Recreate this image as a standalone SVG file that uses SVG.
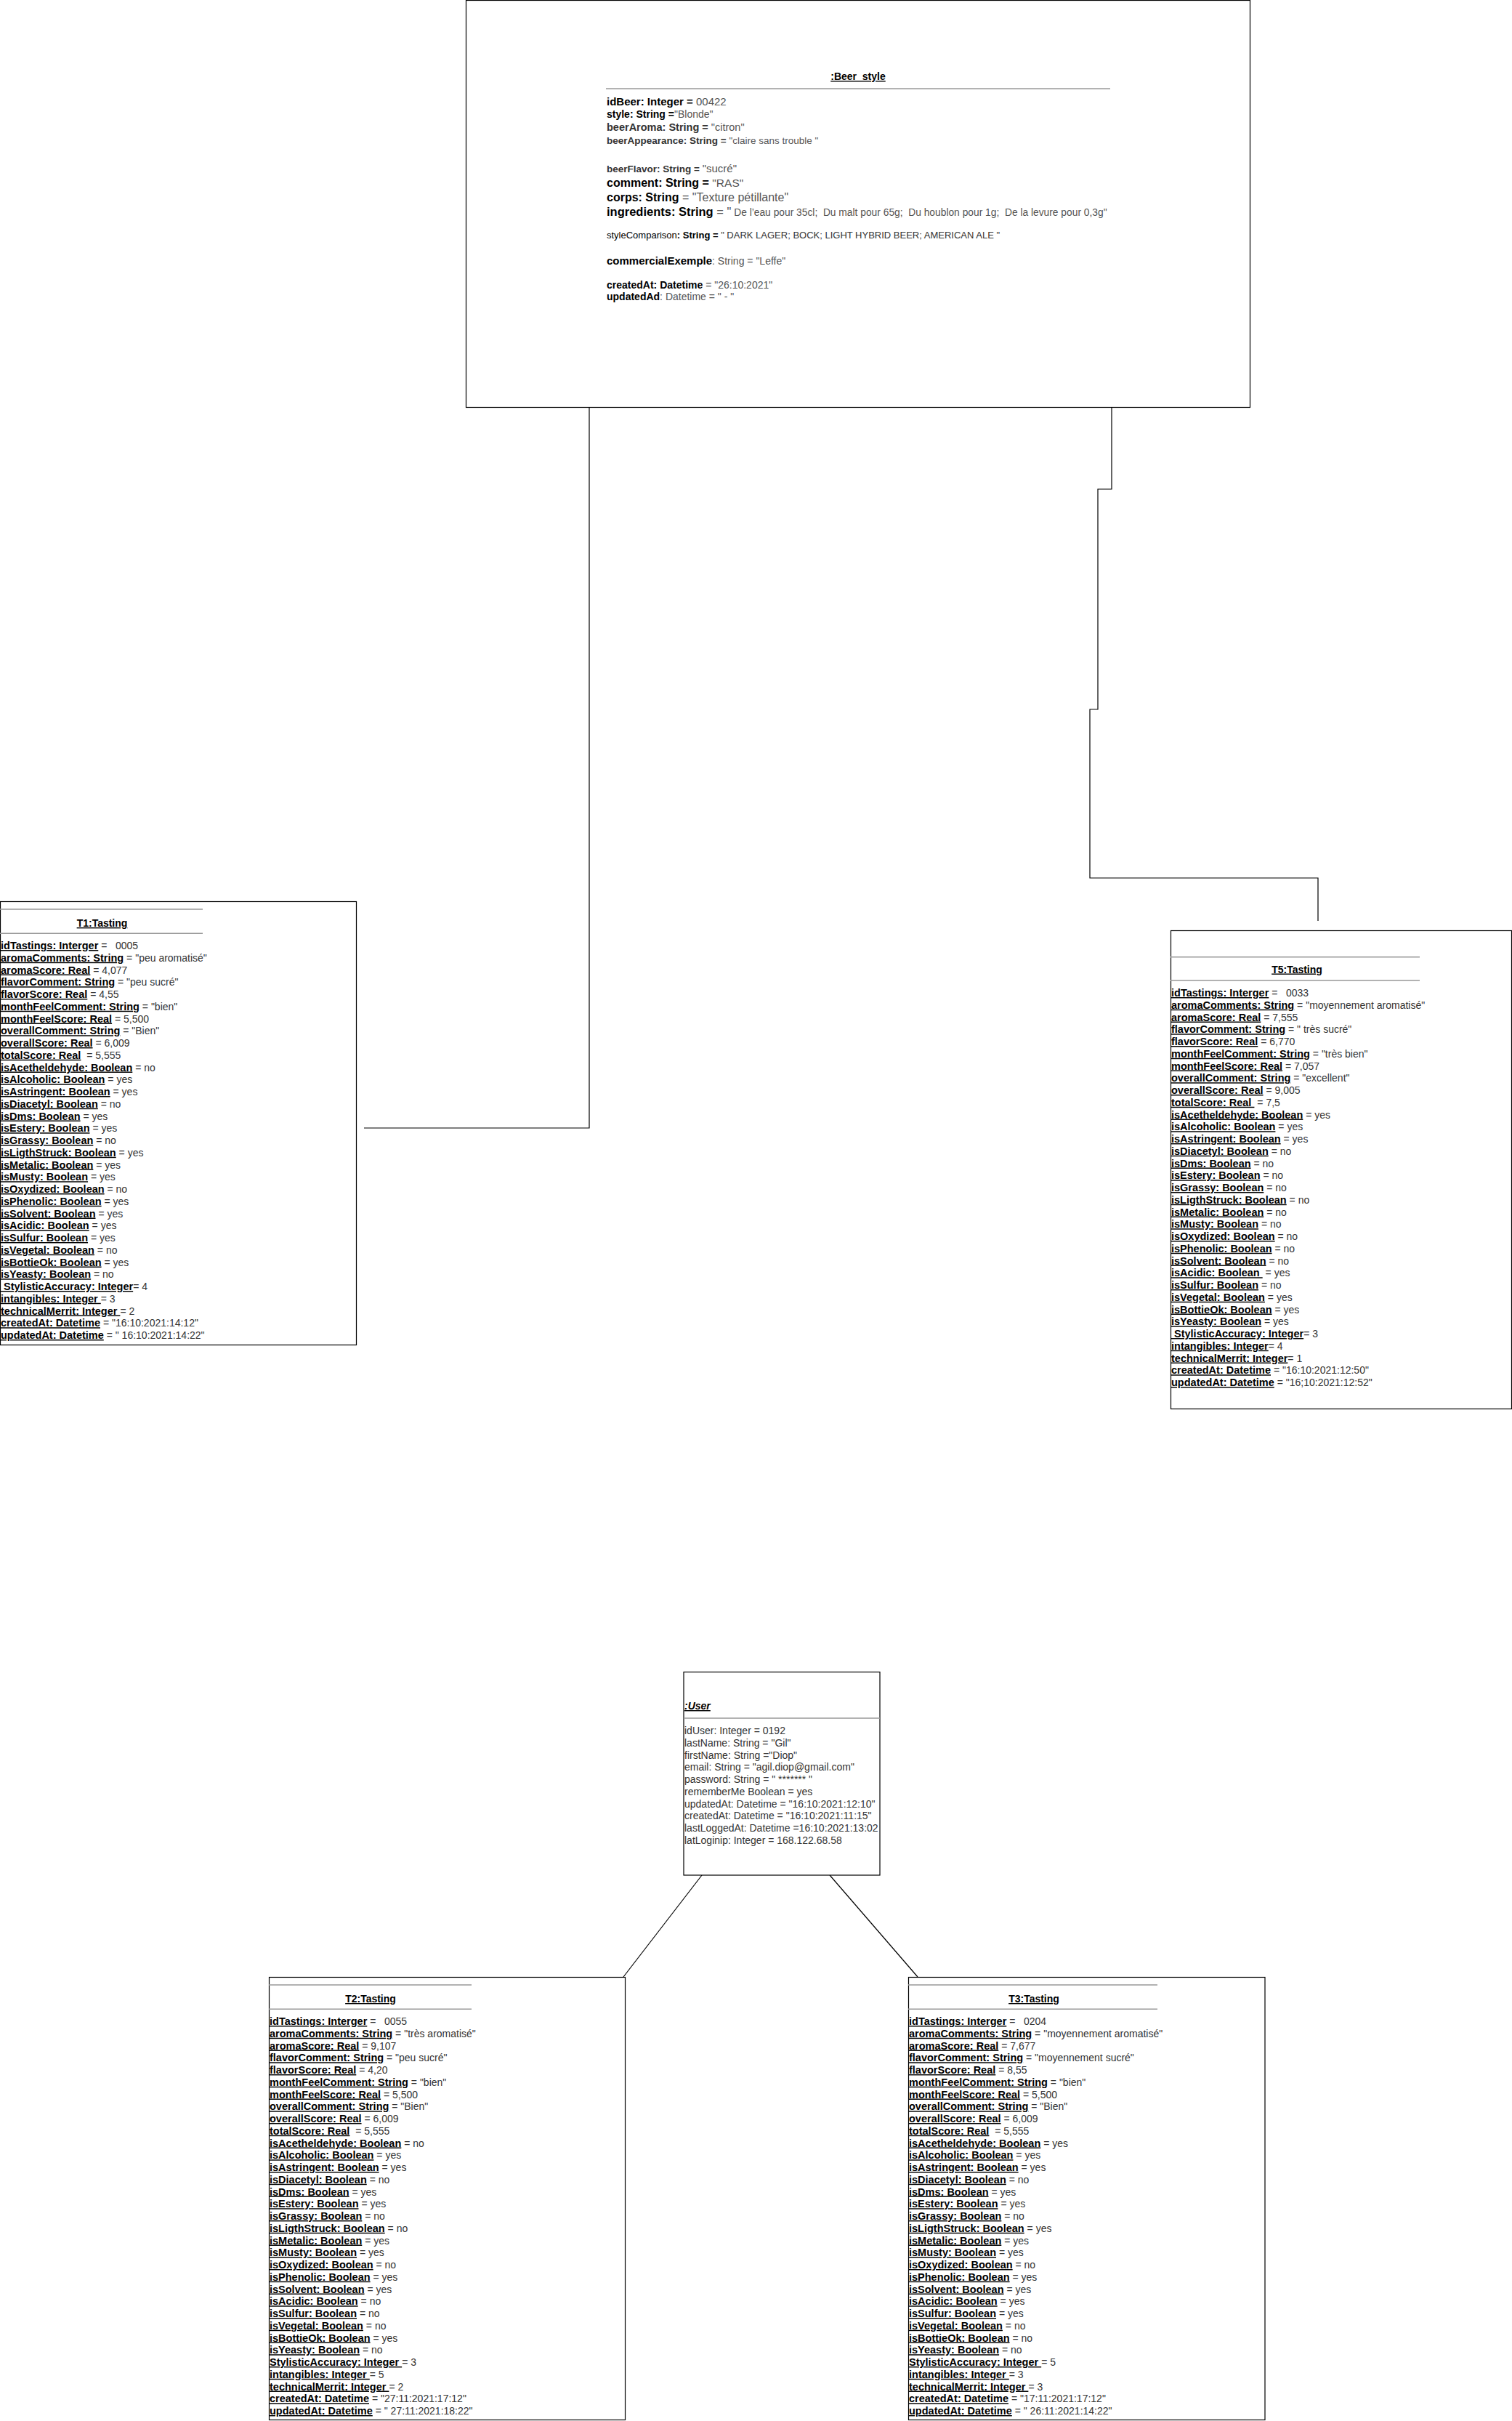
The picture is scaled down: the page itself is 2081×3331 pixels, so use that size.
<svg xmlns="http://www.w3.org/2000/svg" width="2081" height="3331" viewBox="0 0 2081 3331" xml:space="preserve">
<style>
text{font-family:"Liberation Sans",Arial,Helvetica,sans-serif;font-size:14px;fill:#333;white-space:pre}
.b{font-weight:bold;fill:#000}
.u{text-decoration:underline}
.g{fill:#555}
.box{fill:#fff;stroke:#000;stroke-width:1.2}
.sep{stroke:#999;stroke-width:1.5}
.conn{fill:none;stroke:#000;stroke-width:1.2}
.tb{font-size:14.5px}
.tt{font-weight:bold;fill:#000;text-decoration:underline;text-anchor:middle}
</style>
<rect width="2081" height="3331" fill="#fff"/>
<g id="connectors">
<polyline class="conn" points="811,560 811,1552 501,1552"/>
<polyline class="conn" points="1530,560 1530,673 1511,673 1511,976 1500,976 1500,1208 1814,1208 1814,1267"/>
<line class="conn" x1="966" y1="2580" x2="858" y2="2720"/>
<line class="conn" x1="1142" y1="2580" x2="1263" y2="2720"/>
</g>
<g id="beer_style">
<rect class="box" x="641.5" y="0.5" width="1079" height="560"/>
<text class="tt" x="1181" y="110">:Beer_style</text>
<line class="sep" x1="834" y1="122" x2="1528" y2="122"/>
<text x="835" y="145"><tspan class="b" style="font-size:15px">idBeer: Integer = </tspan><tspan class="g" style="font-size:15px">00422</tspan></text>
<text x="835" y="162"><tspan class="b">style: String =</tspan><tspan class="g">"Blonde"</tspan></text>
<text x="835" y="180" style="font-size:14.5px"><tspan class="b" style="fill:#333">beerAroma: String = </tspan><tspan class="g">"citron"</tspan></text>
<text x="835" y="198" style="font-size:13.5px"><tspan class="b" style="fill:#333">beerAppearance: String = </tspan><tspan class="g">"claire sans trouble "</tspan></text>
<text x="835" y="237"><tspan class="b" style="fill:#333;font-size:13.5px">beerFlavor: String = </tspan><tspan class="g" style="font-size:15px">"sucré"</tspan></text>
<text x="835" y="257" style="font-size:16px"><tspan class="b">comment: String = </tspan><tspan class="g" style="font-size:15.5px">"RAS"</tspan></text>
<text x="835" y="277" style="font-size:16px"><tspan class="b">corps: String</tspan><tspan class="g"> = "Texture pétillante"</tspan></text>
<text x="835" y="297" style="font-size:16.5px"><tspan class="b">ingredients: String</tspan><tspan class="g"> = "</tspan><tspan class="g" style="font-size:13.8px"> De l’eau pour 35cl;  Du malt pour 65g;  Du houblon pour 1g;  De la levure pour 0,3g"</tspan></text>
<text x="835" y="328" style="font-size:13px"><tspan style="fill:#000">styleComparison</tspan><tspan class="b">: String = </tspan><tspan>" DARK LAGER; BOCK; LIGHT HYBRID BEER; AMERICAN ALE "</tspan></text>
<text x="835" y="364"><tspan class="b" style="font-size:15px">commercialExemple</tspan><tspan class="g">: String = "Leffe"</tspan></text>
<text x="835" y="397"><tspan class="b">createdAt: Datetime</tspan><tspan class="g"> = "26:10:2021"</tspan></text>
<text x="835" y="413"><tspan class="b">updatedAd</tspan><tspan class="g">: Datetime = " - "</tspan></text>
</g>
<g id="t1">
<rect class="box" x="0.5" y="1240.5" width="490" height="610"/>
<line class="sep" x1="0" y1="1251" x2="279" y2="1251"/>
<text class="tt" x="140.5" y="1275">T1:Tasting</text>
<line class="sep" x1="0" y1="1284.3" x2="279" y2="1284.3"/>
<g transform="translate(1,1306)">
<text y="0"><tspan class="b u tb">idTastings: Interger</tspan> =   0005</text>
<text y="16.75"><tspan class="b u tb">aromaComments: String</tspan> = "peu aromatisé"</text>
<text y="33.5"><tspan class="b u tb">aromaScore: Real</tspan> = 4,077</text>
<text y="50.25"><tspan class="b u tb">flavorComment: String</tspan> = "peu sucré"</text>
<text y="67"><tspan class="b u tb">flavorScore: Real</tspan> = 4,55</text>
<text y="83.75"><tspan class="b u tb">monthFeelComment: String</tspan> = "bien"</text>
<text y="100.5"><tspan class="b u tb">monthFeelScore: Real</tspan> = 5,500</text>
<text y="117.25"><tspan class="b u tb">overallComment: String</tspan> = "Bien"</text>
<text y="134"><tspan class="b u tb">overallScore: Real</tspan> = 6,009</text>
<text y="150.75"><tspan class="b u tb">totalScore: Real</tspan>  = 5,555</text>
<text y="167.5"><tspan class="b u tb">isAcetheldehyde: Boolean</tspan> = no</text>
<text y="184.25"><tspan class="b u tb">isAlcoholic: Boolean</tspan> = yes</text>
<text y="201"><tspan class="b u tb">isAstringent: Boolean</tspan> = yes</text>
<text y="217.75"><tspan class="b u tb">isDiacetyl: Boolean</tspan> = no</text>
<text y="234.5"><tspan class="b u tb">isDms: Boolean</tspan> = yes</text>
<text y="251.25"><tspan class="b u tb">isEstery: Boolean</tspan> = yes</text>
<text y="268"><tspan class="b u tb">isGrassy: Boolean</tspan> = no</text>
<text y="284.75"><tspan class="b u tb">isLigthStruck: Boolean</tspan> = yes</text>
<text y="301.5"><tspan class="b u tb">isMetalic: Boolean</tspan> = yes</text>
<text y="318.25"><tspan class="b u tb">isMusty: Boolean</tspan> = yes</text>
<text y="335"><tspan class="b u tb">isOxydized: Boolean</tspan> = no</text>
<text y="351.75"><tspan class="b u tb">isPhenolic: Boolean</tspan> = yes</text>
<text y="368.5"><tspan class="b u tb">isSolvent: Boolean</tspan> = yes</text>
<text y="385.25"><tspan class="b u tb">isAcidic: Boolean</tspan> = yes</text>
<text y="402"><tspan class="b u tb">isSulfur: Boolean</tspan> = yes</text>
<text y="418.75"><tspan class="b u tb">isVegetal: Boolean</tspan> = no</text>
<text y="435.5"><tspan class="b u tb">isBottieOk: Boolean</tspan> = yes</text>
<text y="452.25"><tspan class="b u tb">isYeasty: Boolean</tspan> = no</text>
<text y="469"><tspan class="b u tb"> StylisticAccuracy: Integer</tspan>= 4</text>
<text y="485.75"><tspan class="b u tb">intangibles: Integer </tspan>= 3</text>
<text y="502.5"><tspan class="b u tb">technicalMerrit: Integer </tspan>= 2</text>
<text y="519.25"><tspan class="b u tb">createdAt: Datetime</tspan> = "16:10:2021:14:12"</text>
<text y="536"><tspan class="b u tb">updatedAt: Datetime</tspan> = " 16:10:2021:14:22"</text>
</g>
</g>
<g id="t5">
<rect class="box" x="1611.5" y="1280.5" width="469" height="658"/>
<line class="sep" x1="1611" y1="1316.7" x2="1954" y2="1316.7"/>
<text class="tt" x="1785" y="1338.5">T5:Tasting</text>
<line class="sep" x1="1611" y1="1349" x2="1954" y2="1349"/>
<g transform="translate(1612,1371)">
<text y="0"><tspan class="b u tb">idTastings: Interger</tspan> =   0033</text>
<text y="16.75"><tspan class="b u tb">aromaComments: String</tspan> = "moyennement aromatisé"</text>
<text y="33.5"><tspan class="b u tb">aromaScore: Real</tspan> = 7,555</text>
<text y="50.25"><tspan class="b u tb">flavorComment: String</tspan> = " très sucré"</text>
<text y="67"><tspan class="b u tb">flavorScore: Real</tspan> = 6,770</text>
<text y="83.75"><tspan class="b u tb">monthFeelComment: String</tspan> = "très bien"</text>
<text y="100.5"><tspan class="b u tb">monthFeelScore: Real</tspan> = 7,057</text>
<text y="117.25"><tspan class="b u tb">overallComment: String</tspan> = "excellent"</text>
<text y="134"><tspan class="b u tb">overallScore: Real</tspan> = 9,005</text>
<text y="150.75"><tspan class="b u tb">totalScore: Real </tspan> = 7,5</text>
<text y="167.5"><tspan class="b u tb">isAcetheldehyde: Boolean</tspan> = yes</text>
<text y="184.25"><tspan class="b u tb">isAlcoholic: Boolean</tspan> = yes</text>
<text y="201"><tspan class="b u tb">isAstringent: Boolean</tspan> = yes</text>
<text y="217.75"><tspan class="b u tb">isDiacetyl: Boolean</tspan> = no</text>
<text y="234.5"><tspan class="b u tb">isDms: Boolean</tspan> = no</text>
<text y="251.25"><tspan class="b u tb">isEstery: Boolean</tspan> = no</text>
<text y="268"><tspan class="b u tb">isGrassy: Boolean</tspan> = no</text>
<text y="284.75"><tspan class="b u tb">isLigthStruck: Boolean</tspan> = no</text>
<text y="301.5"><tspan class="b u tb">isMetalic: Boolean</tspan> = no</text>
<text y="318.25"><tspan class="b u tb">isMusty: Boolean</tspan> = no</text>
<text y="335"><tspan class="b u tb">isOxydized: Boolean</tspan> = no</text>
<text y="351.75"><tspan class="b u tb">isPhenolic: Boolean</tspan> = no</text>
<text y="368.5"><tspan class="b u tb">isSolvent: Boolean</tspan> = no</text>
<text y="385.25"><tspan class="b u tb">isAcidic: Boolean </tspan> = yes</text>
<text y="402"><tspan class="b u tb">isSulfur: Boolean</tspan> = no</text>
<text y="418.75"><tspan class="b u tb">isVegetal: Boolean</tspan> = yes</text>
<text y="435.5"><tspan class="b u tb">isBottieOk: Boolean</tspan> = yes</text>
<text y="452.25"><tspan class="b u tb">isYeasty: Boolean</tspan> = yes</text>
<text y="469"><tspan class="b u tb"> StylisticAccuracy: Integer</tspan>= 3</text>
<text y="485.75"><tspan class="b u tb">intangibles: Integer</tspan>= 4</text>
<text y="502.5"><tspan class="b u tb">technicalMerrit: Integer</tspan>= 1</text>
<text y="519.25"><tspan class="b u tb">createdAt: Datetime</tspan> = "16:10:2021:12:50"</text>
<text y="536"><tspan class="b u tb">updatedAt: Datetime</tspan> = "16;10:2021:12:52"</text>
</g>
</g>
<g id="user">
<rect class="box" x="941" y="2300.5" width="270" height="279.5"/>
<text x="942" y="2352" class="b u" style="font-style:italic">:User</text>
<line class="sep" x1="941" y1="2364" x2="1211" y2="2364"/>
<text x="942" y="2386">idUser: Integer = 0192</text>
<text x="942" y="2402.75">lastName: String = "Gil"</text>
<text x="942" y="2419.5">firstName: String ="Diop"</text>
<text x="942" y="2436.25">email: String = "agil.diop@gmail.com"</text>
<text x="942" y="2453">password: String = " ******* "</text>
<text x="942" y="2469.75">rememberMe Boolean = yes</text>
<text x="942" y="2486.5">updatedAt: Datetime = "16:10:2021:12:10"</text>
<text x="942" y="2503.25">createdAt: Datetime = "16:10:2021:11:15"</text>
<text x="942" y="2520">lastLoggedAt: Datetime =16:10:2021:13:02</text>
<text x="942" y="2536.75">latLoginip: Integer = 168.122.68.58</text>
</g>
<g id="t2">
<rect class="box" x="370.5" y="2720.5" width="490" height="609"/>
<line class="sep" x1="370" y1="2731" x2="649" y2="2731"/>
<text class="tt" x="510" y="2755">T2:Tasting</text>
<line class="sep" x1="370" y1="2764.3" x2="649" y2="2764.3"/>
<g transform="translate(371,2786)">
<text y="0"><tspan class="b u tb">idTastings: Interger</tspan> =   0055</text>
<text y="16.75"><tspan class="b u tb">aromaComments: String</tspan> = "très aromatisé"</text>
<text y="33.5"><tspan class="b u tb">aromaScore: Real</tspan> = 9,107</text>
<text y="50.25"><tspan class="b u tb">flavorComment: String</tspan> = "peu sucré"</text>
<text y="67"><tspan class="b u tb">flavorScore: Real</tspan> = 4,20</text>
<text y="83.75"><tspan class="b u tb">monthFeelComment: String</tspan> = "bien"</text>
<text y="100.5"><tspan class="b u tb">monthFeelScore: Real</tspan> = 5,500</text>
<text y="117.25"><tspan class="b u tb">overallComment: String</tspan> = "Bien"</text>
<text y="134"><tspan class="b u tb">overallScore: Real</tspan> = 6,009</text>
<text y="150.75"><tspan class="b u tb">totalScore: Real</tspan>  = 5,555</text>
<text y="167.5"><tspan class="b u tb">isAcetheldehyde: Boolean</tspan> = no</text>
<text y="184.25"><tspan class="b u tb">isAlcoholic: Boolean</tspan> = yes</text>
<text y="201"><tspan class="b u tb">isAstringent: Boolean</tspan> = yes</text>
<text y="217.75"><tspan class="b u tb">isDiacetyl: Boolean</tspan> = no</text>
<text y="234.5"><tspan class="b u tb">isDms: Boolean</tspan> = yes</text>
<text y="251.25"><tspan class="b u tb">isEstery: Boolean</tspan> = yes</text>
<text y="268"><tspan class="b u tb">isGrassy: Boolean</tspan> = no</text>
<text y="284.75"><tspan class="b u tb">isLigthStruck: Boolean</tspan> = no</text>
<text y="301.5"><tspan class="b u tb">isMetalic: Boolean</tspan> = yes</text>
<text y="318.25"><tspan class="b u tb">isMusty: Boolean</tspan> = yes</text>
<text y="335"><tspan class="b u tb">isOxydized: Boolean</tspan> = no</text>
<text y="351.75"><tspan class="b u tb">isPhenolic: Boolean</tspan> = yes</text>
<text y="368.5"><tspan class="b u tb">isSolvent: Boolean</tspan> = yes</text>
<text y="385.25"><tspan class="b u tb">isAcidic: Boolean</tspan> = no</text>
<text y="402"><tspan class="b u tb">isSulfur: Boolean</tspan> = no</text>
<text y="418.75"><tspan class="b u tb">isVegetal: Boolean</tspan> = no</text>
<text y="435.5"><tspan class="b u tb">isBottieOk: Boolean</tspan> = yes</text>
<text y="452.25"><tspan class="b u tb">isYeasty: Boolean</tspan> = no</text>
<text y="469"><tspan class="b u tb">StylisticAccuracy: Integer </tspan>= 3</text>
<text y="485.75"><tspan class="b u tb">intangibles: Integer </tspan>= 5</text>
<text y="502.5"><tspan class="b u tb">technicalMerrit: Integer </tspan>= 2</text>
<text y="519.25"><tspan class="b u tb">createdAt: Datetime</tspan> = "27:11:2021:17:12"</text>
<text y="536"><tspan class="b u tb">updatedAt: Datetime</tspan> = " 27:11:2021:18:22"</text>
</g>
</g>
<g id="t3">
<rect class="box" x="1250.5" y="2720.5" width="490.5" height="609"/>
<line class="sep" x1="1250" y1="2731" x2="1593" y2="2731"/>
<text class="tt" x="1423" y="2755">T3:Tasting</text>
<line class="sep" x1="1250" y1="2764.3" x2="1593" y2="2764.3"/>
<g transform="translate(1251,2786)">
<text y="0"><tspan class="b u tb">idTastings: Interger</tspan> =   0204</text>
<text y="16.75"><tspan class="b u tb">aromaComments: String</tspan> = "moyennement aromatisé"</text>
<text y="33.5"><tspan class="b u tb">aromaScore: Real</tspan> = 7,677</text>
<text y="50.25"><tspan class="b u tb">flavorComment: String</tspan> = "moyennement sucré"</text>
<text y="67"><tspan class="b u tb">flavorScore: Real</tspan> = 8,55</text>
<text y="83.75"><tspan class="b u tb">monthFeelComment: String</tspan> = "bien"</text>
<text y="100.5"><tspan class="b u tb">monthFeelScore: Real</tspan> = 5,500</text>
<text y="117.25"><tspan class="b u tb">overallComment: String</tspan> = "Bien"</text>
<text y="134"><tspan class="b u tb">overallScore: Real</tspan> = 6,009</text>
<text y="150.75"><tspan class="b u tb">totalScore: Real</tspan>  = 5,555</text>
<text y="167.5"><tspan class="b u tb">isAcetheldehyde: Boolean</tspan> = yes</text>
<text y="184.25"><tspan class="b u tb">isAlcoholic: Boolean</tspan> = yes</text>
<text y="201"><tspan class="b u tb">isAstringent: Boolean</tspan> = yes</text>
<text y="217.75"><tspan class="b u tb">isDiacetyl: Boolean</tspan> = no</text>
<text y="234.5"><tspan class="b u tb">isDms: Boolean</tspan> = yes</text>
<text y="251.25"><tspan class="b u tb">isEstery: Boolean</tspan> = yes</text>
<text y="268"><tspan class="b u tb">isGrassy: Boolean</tspan> = no</text>
<text y="284.75"><tspan class="b u tb">isLigthStruck: Boolean</tspan> = yes</text>
<text y="301.5"><tspan class="b u tb">isMetalic: Boolean</tspan> = yes</text>
<text y="318.25"><tspan class="b u tb">isMusty: Boolean</tspan> = yes</text>
<text y="335"><tspan class="b u tb">isOxydized: Boolean</tspan> = no</text>
<text y="351.75"><tspan class="b u tb">isPhenolic: Boolean</tspan> = yes</text>
<text y="368.5"><tspan class="b u tb">isSolvent: Boolean</tspan> = yes</text>
<text y="385.25"><tspan class="b u tb">isAcidic: Boolean</tspan> = yes</text>
<text y="402"><tspan class="b u tb">isSulfur: Boolean</tspan> = yes</text>
<text y="418.75"><tspan class="b u tb">isVegetal: Boolean</tspan> = no</text>
<text y="435.5"><tspan class="b u tb">isBottieOk: Boolean</tspan> = no</text>
<text y="452.25"><tspan class="b u tb">isYeasty: Boolean</tspan> = no</text>
<text y="469"><tspan class="b u tb">StylisticAccuracy: Integer </tspan>= 5</text>
<text y="485.75"><tspan class="b u tb">intangibles: Integer </tspan>= 3</text>
<text y="502.5"><tspan class="b u tb">technicalMerrit: Integer </tspan>= 3</text>
<text y="519.25"><tspan class="b u tb">createdAt: Datetime</tspan> = "17:11:2021:17:12"</text>
<text y="536"><tspan class="b u tb">updatedAt: Datetime</tspan> = " 26:11:2021:14:22"</text>
</g>
</g>
</svg>
